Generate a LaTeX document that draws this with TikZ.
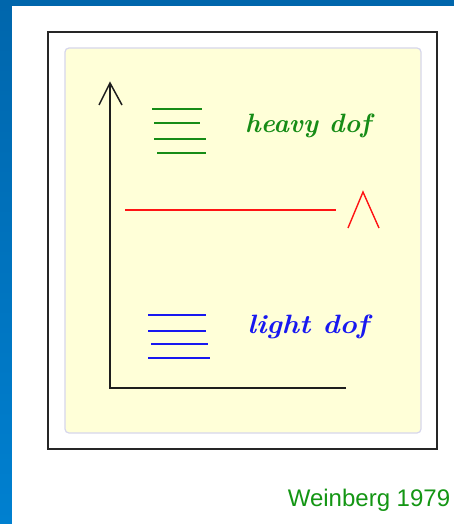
\documentclass[tikz,border=0pt]{standalone}
\usepackage{fontspec}
\newfontfamily\arialfont{Liberation Sans}
\definecolor{bluetop}{RGB}{0,102,172}
\definecolor{bluebot}{RGB}{0,128,208}
\definecolor{panelfill}{RGB}{255,255,216}
\definecolor{panelrim}{RGB}{214,214,236}
\definecolor{heavygreen}{RGB}{22,140,22}
\definecolor{lightblue}{RGB}{24,24,240}
\definecolor{weingreen}{RGB}{20,150,20}
\definecolor{cutred}{RGB}{255,20,20}
\definecolor{axisgray}{RGB}{30,30,30}
\tikzset{
  levelg/.style={draw=heavygreen, line width=1.7pt},
  levelb/.style={draw=lightblue, line width=1.9pt},
  axisline/.style={draw=axisgray, line width=1.8pt},
  txtnode/.style={inner sep=0pt, anchor=base},
  doffont/.style={font=\fontsize{26.5}{31}\selectfont\bfseries\itshape},
  citefont/.style={font=\arialfont\fontsize{24}{28}\selectfont},
}
\begin{document}
\begin{tikzpicture}[x=1pt,y=-1pt]
\useasboundingbox (0,0) rectangle (454,524);
% blue background
\fill[bluetop] (0,0) rectangle (454,524);
\shade[top color=bluetop, bottom color=bluebot] (0,0) rectangle (12,524);
\fill[white] (12,6) rectangle (454,524);
% frame
\draw[black!85, line width=1.4pt] (48,32) rectangle (437,449);
% panel
\draw[panelrim, fill=panelfill, line width=1.2pt, rounded corners=4pt] (65,48) rectangle (421,433);
% axes
\coordinate (origin) at (110,388);
\coordinate (ytip) at (110,83);
\coordinate (xend) at (346,388);
\draw[axisline] (xend) -- (origin) -- (ytip);
\draw[axisline, line width=1.5pt, line join=miter] (99,105) -- (ytip) -- (122,105);
% heavy levels
\draw[levelg] (152,109) -- (202,109);
\draw[levelg] (154,123) -- (200,123);
\draw[levelg] (154,139) -- (206,139);
\draw[levelg] (157,153) -- (206,153);
\node[txtnode, doffont, text=heavygreen] (heavydof) at (308,132) {heavy dof};
% cutoff
\draw[draw=cutred, line width=1.8pt] (125,210) -- (336,210);
\draw[draw=cutred, line width=1.4pt] (348,228) -- (363,192) -- (379,228);
% light levels
\draw[levelb] (148,315) -- (206,315);
\draw[levelb] (148,331) -- (206,331);
\draw[levelb] (151,344) -- (208,344);
\draw[levelb] (148,358) -- (210,358);
\node[txtnode, doffont, text=lightblue, xscale=1.1] (lightdof) at (308,333) {light dof};
% citation
\node[txtnode, citefont, text=weingreen] (cite) at (369,506) {Weinberg 1979};
\end{tikzpicture}
\end{document}
